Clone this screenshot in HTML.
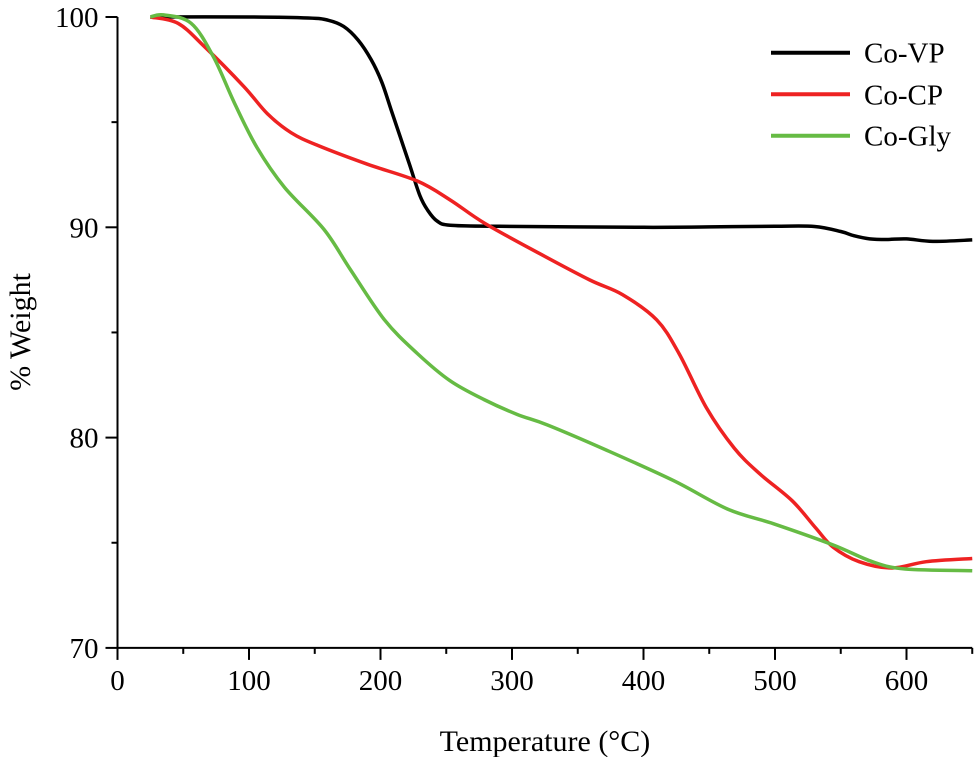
<!DOCTYPE html>
<html><head><meta charset="utf-8"><style>
html,body{margin:0;padding:0;background:#fff;}
svg{display:block;font-family:"Liberation Serif",serif;}
</style></head><body>
<svg id="chart" width="977" height="757" viewBox="0 0 977 757" xmlns="http://www.w3.org/2000/svg"></svg>
<script>
const xTicks=[0,100,200,300,400,500,600];
const yTicks=[70,80,90,100];
const seriesNames=["Co-VP","Co-CP","Co-Gly"];
const vpT=[25,100,145,160,172,183,193,201,208,215,222,230,236,243,253,290,400,450,500,530,550,560,572,585,600,620,650];
const vpW=[100,100,99.95,99.85,99.55,98.9,97.96,96.9,95.6,94.3,93.0,91.5,90.8,90.3,90.1,90.05,90.0,90.02,90.05,90.04,89.8,89.6,89.45,89.42,89.45,89.33,89.4];
const cpT=[25,46,66,96,114,132,152,190,228,253,279,321,359,384,410,427,448,469,488,513,531,544,564,589,615,650];
const cpW=[100,99.7,98.6,96.7,95.4,94.5,93.9,93.0,92.2,91.3,90.2,88.75,87.5,86.8,85.6,84.0,81.4,79.5,78.3,77.0,75.7,74.8,74.1,73.8,74.1,74.25];
const glyT=[25,35,56,73,89,106,127,157,177,203,228,253,279,304,327,372,423,464,499,544,574,599,650];
const glyW=[100,100.1,99.7,98.1,95.9,93.8,91.9,89.9,88.0,85.6,84.0,82.7,81.8,81.1,80.6,79.4,77.95,76.6,75.9,74.9,74.1,73.75,73.67];

const X0=117.5,XS=1.315,Y0=17,YS=21.03;
function sx(t){return X0+t*XS;}
function sy(w){return Y0+(100-w)*YS;}
const svg=document.getElementById('chart');
const NS="http://www.w3.org/2000/svg";
function mk(tag,attrs,parent){const e=document.createElementNS(NS,tag);for(const k in attrs)e.setAttribute(k,attrs[k]);(parent||svg).appendChild(e);return e;}
function smooth(ts,ws){
  const p=ts.map((t,i)=>[sx(t),sy(ws[i])]);
  let d="M"+p[0][0]+","+p[0][1];
  for(let i=0;i<p.length-1;i++){
    const p0=p[Math.max(0,i-1)],p1=p[i],p2=p[i+1],p3=p[Math.min(p.length-1,i+2)];
    const c1=[p1[0]+(p2[0]-p0[0])/6,p1[1]+(p2[1]-p0[1])/6];
    const c2=[p2[0]-(p3[0]-p1[0])/6,p2[1]-(p3[1]-p1[1])/6];
    d+=" C"+c1[0].toFixed(2)+","+c1[1].toFixed(2)+" "+c2[0].toFixed(2)+","+c2[1].toFixed(2)+" "+p2[0].toFixed(2)+","+p2[1].toFixed(2);
  }
  return d;
}
const ax=mk('g',{});


const yl=mk('line',{x1:X0,y1:Y0,x2:X0,y2:sy(70),stroke:'#000','stroke-width':2},ax);


const xl=mk('line',{x1:X0,y1:sy(70),x2:sx(650),y2:sy(70),stroke:'#000','stroke-width':2},ax);


for(let t=0;t<=650;t+=50){
  const major=t%100===0;
  const tk=mk('line',{x1:sx(t),y1:sy(70),x2:sx(t),y2:sy(70)+(major?12:6),stroke:'#000','stroke-width':2},ax);
  
  
}
xTicks.forEach(t=>{
  const tx=mk('text',{x:sx(t),y:sy(70)+42,'font-size':29,'text-anchor':'middle',fill:'#000'},ax);
  tx.textContent=t;
  
  
});
for(let w=70;w<=100;w+=5){
  const major=w%10===0;
  const tk=mk('line',{x1:X0-(major?12:6),y1:sy(w),x2:X0,y2:sy(w),stroke:'#000','stroke-width':2},ax);
  
  
}
yTicks.forEach(w=>{
  const tx=mk('text',{x:X0-19,y:sy(w)+10,'font-size':29,'text-anchor':'end',fill:'#000'},ax);
  tx.textContent=w;
  
  
});
const xt=mk('text',{x:545,y:751,'font-size':30,'text-anchor':'middle',fill:'#000'});
xt.textContent="Temperature (°C)";


const yt=mk('text',{x:0,y:0,'font-size':30,'text-anchor':'middle',fill:'#000',transform:'translate(30,332) rotate(-90)'});
yt.textContent="% Weight";


const colors=["#000000","#ee2222","#66bb44"];
const data=[[vpT,vpW],[cpT,cpW],[glyT,glyW]];
data.forEach((s,i)=>{
  const p=mk('path',{d:smooth(s[0],s[1]),fill:'none',stroke:colors[i],'stroke-width':3.5,'stroke-linejoin':'round'});
  
  
});
const lg=mk('g',{});


const ly=[52.7,94.3,135.7];
seriesNames.forEach((n,i)=>{
  const l=mk('line',{x1:771,y1:ly[i],x2:850,y2:ly[i],stroke:colors[i],'stroke-width':4},lg);
  
  
  const t=mk('text',{x:864,y:ly[i]+10,'font-size':29,fill:'#000'},lg);
  t.textContent=n;
  
  
});
</script>
</body></html>
